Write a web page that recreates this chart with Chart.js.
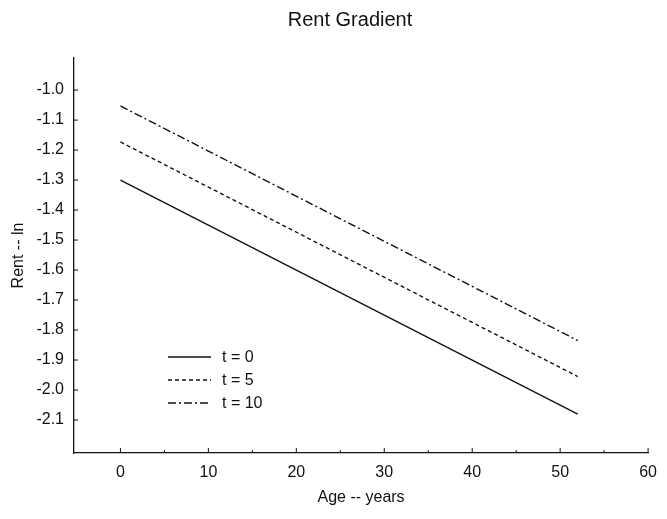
<!DOCTYPE html>
<html lang="en">
<head>
<meta charset="UTF-8">
<title>Rent Gradient</title>
<script src="https://cdn.jsdelivr.net/npm/chart.js"></script>
<style>
  html,body{margin:0;padding:0;background:#fff}
  #wrap{width:667px;height:519px}
</style>
</head>
<body>
<div id="wrap"><canvas id="chart" width="667" height="519"></canvas></div>
<script>
// values
const ages    = [0, 52];
const rentT0  = [-1.300, -2.080];
const rentT5  = [-1.173, -1.955];
const rentT10 = [-1.053, -1.835];
const seriesNames = ['t = 0', 't = 5', 't = 10'];

const xTicks = [0, 10, 20, 30, 40, 50, 60];
const xMinor = [5, 15, 25, 35, 45, 55];
const yTicks = [-2.1, -2.0, -1.9, -1.8, -1.7, -1.6, -1.5, -1.4, -1.3, -1.2, -1.1, -1.0];

const font = 'Arial, "Liberation Sans", sans-serif';
const ink = '#111';
const dashes = [[], [4, 3], [8, 3, 2, 3]];

const pts = vals => ages.map((a, i) => ({x: a, y: vals[i]}));

// title, inward tick marks and the legend inside the plot
const decor = {
  id: 'decor',
  afterDraw(c) {
    const ctx = c.ctx, x = c.scales.x, y = c.scales.y, a = c.chartArea;
    ctx.save();
    ctx.fillStyle = ink;
    ctx.font = '20px ' + font;
    ctx.textAlign = 'center';
    ctx.textBaseline = 'middle';
    ctx.fillText('Rent Gradient', 350, 20);

    ctx.strokeStyle = ink;
    ctx.lineWidth = 1;
    ctx.beginPath();
    xTicks.forEach(v => { const p = x.getPixelForValue(v); ctx.moveTo(p, a.bottom); ctx.lineTo(p, a.bottom - 5); });
    xMinor.forEach(v => { const p = x.getPixelForValue(v); ctx.moveTo(p, a.bottom); ctx.lineTo(p, a.bottom - 3); });
    yTicks.forEach(v => { const p = y.getPixelForValue(v); ctx.moveTo(a.left, p); ctx.lineTo(a.left + 4, p); });
    ctx.stroke();

    // legend
    const lx = a.left + 94, ty = a.bottom - 96;
    ctx.font = '16px ' + font;
    ctx.textAlign = 'left';
    c.data.datasets.forEach((ds, i) => {
      const yy = ty + i * 23;
      ctx.beginPath();
      ctx.setLineDash(ds.borderDash || []);
      ctx.lineWidth = 1.3;
      ctx.moveTo(lx, yy); ctx.lineTo(lx + 43, yy);
      ctx.stroke();
      ctx.setLineDash([]);
      ctx.fillText(ds.label, lx + 54, yy + 1);
    });
    ctx.restore();
  }
};

new Chart(document.getElementById('chart'), {
  type: 'line',
  data: {
    datasets: [rentT0, rentT5, rentT10].map((vals, i) => ({
      label: seriesNames[i],
      data: pts(vals),
      borderColor: ink,
      borderWidth: 1.4,
      borderDash: dashes[i],
      pointRadius: 0,
      fill: false,
      tension: 0
    }))
  },
  options: {
    responsive: false,
    animation: false,
    layout: {padding: {left: 0, right: 15, top: 58, bottom: 0}},
    plugins: {
      legend: {display: false},
      tooltip: {enabled: false},
      title: {display: false}
    },
    scales: {
      x: {
        type: 'linear',
        min: -5.28, max: 60,
        afterBuildTicks: s => { s.ticks = xTicks.map(v => ({value: v})); },
        afterFit: s => { s.height = 66; },
        grid: {display: false, drawTicks: false},
        border: {display: true, color: ink, width: 1.3},
        ticks: {color: ink, padding: 10, font: {family: font, size: 16}, maxRotation: 0},
        title: {display: true, text: 'Age -- years', color: ink,
                font: {family: font, size: 16}, padding: {top: 0, bottom: 12}}
      },
      y: {
        min: -2.21, max: -0.893,
        afterBuildTicks: s => { s.ticks = yTicks.map(v => ({value: v})); },
        afterFit: s => { s.width = 74; },
        grid: {display: false, drawTicks: false},
        border: {display: true, color: ink, width: 1.3},
        ticks: {color: ink, padding: 10, font: {family: font, size: 16},
                callback: v => v.toFixed(1)},
        title: {display: true, text: 'Rent -- ln', color: ink,
                font: {family: font, size: 16}, padding: {top: 9, bottom: 0}}
      }
    }
  },
  plugins: [decor]
});
</script>
</body>
</html>
